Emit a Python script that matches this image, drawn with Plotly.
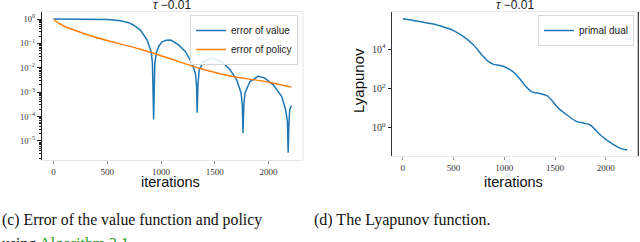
import plotly.graph_objects as go

# ---- data: left panel (error curves) ----
val_iter = [0, 200, 400, 500, 624, 700, 746, 808, 870, 907, 920, 931, 942, 956, 980, 1009, 1050, 1090,
            1163, 1225, 1287, 1318, 1330, 1336, 1343, 1355, 1395, 1472, 1565, 1642, 1704, 1744, 1755,
            1762, 1770, 1781, 1827, 1904, 1966, 2043, 2121, 2158, 2175, 2182, 2190, 2197, 2213]
val_err = [1.0, 1.0, 0.99, 0.97, 0.85, 0.71, 0.56, 0.355, 0.138, 0.047, 0.016, 7.6e-5, 0.016, 0.041,
           0.079, 0.117, 0.135, 0.138, 0.087, 0.047, 0.0155, 0.0063, 0.002, 1.45e-4, 0.002, 0.0083,
           0.018, 0.025, 0.018, 0.0083, 0.0032, 9.3e-4, 3.2e-4, 2.1e-5, 3.2e-4, 9.5e-4, 0.00275,
           0.00447, 0.0038, 0.002, 6.8e-4, 1.95e-4, 6.3e-5, 3.3e-6, 6.3e-5, 1.95e-4, 2.8e-4]

pol_iter = [0, 20, 52, 100, 191, 300, 500, 808, 1080, 1349, 1657, 1966, 2213]
pol_err = [1.0, 0.83, 0.66, 0.51, 0.355, 0.24, 0.132, 0.0575, 0.024, 0.0098, 0.00447, 0.00275, 0.00162]

# ---- data: right panel (Lyapunov) ----
lya_iter = [0, 100, 203, 300, 368, 450, 500, 598, 697, 779, 845, 894, 950, 1000, 1050, 1100, 1158,
            1210, 1256, 1300, 1350, 1420, 1470, 1519, 1617, 1716, 1780, 1847, 1946, 2045, 2144, 2210]
lya_val = [3.47e5, 2.9e5, 2.34e5, 1.9e5, 1.51e5, 1.12e5, 8.7e4, 4.27e4, 1.62e4, 5.0e3, 2.29e3, 1.66e3,
           1.5e3, 1.26e3, 9.3e2, 6.0e2, 2.8e2, 1.26e2, 75, 60, 55, 42, 24, 11.5, 4.37, 2.0, 1.7, 1.35,
           0.417, 0.17, 0.087, 0.071]

x_ticks = [0, 500, 1000, 1500, 2000]
left_yvals = [1, 1e-1, 1e-2, 1e-3, 1e-4, 1e-5]
left_ytext = ["10<sup>0</sup>", "10<sup>−1</sup>", "10<sup>−2</sup>", "10<sup>−3</sup>",
              "10<sup>−4</sup>", "10<sup>−5</sup>"]
right_yvals = [1e4, 1e2, 1]
right_ytext = ["10<sup>4</sup>", "10<sup>2</sup>", "10<sup>0</sup>"]

W, H = 640, 242
def px(x): return x / W
def py(y): return 1 - y / H

BLUE = "#1f77b4"
ORANGE = "#ff7f0e"
SANS = "Liberation Sans"
SERIF = "Liberation Serif"

fig = go.Figure()
fig.add_trace(go.Scatter(x=val_iter, y=val_err, mode="lines", name="error of value",
                         line=dict(color=BLUE, width=1.5), xaxis="x", yaxis="y", legend="legend"))
fig.add_trace(go.Scatter(x=pol_iter, y=pol_err, mode="lines", name="error of policy",
                         line=dict(color=ORANGE, width=1.5, shape="spline", smoothing=0.6),
                         xaxis="x", yaxis="y", legend="legend"))
fig.add_trace(go.Scatter(x=lya_iter, y=lya_val, mode="lines", name="primal dual",
                         line=dict(color=BLUE, width=1.5, shape="spline", smoothing=0.8),
                         xaxis="x2", yaxis="y2", legend="legend2"))

xcommon = dict(range=[-110, 2320], tickvals=x_ticks, ticks="outside", ticklen=3, tickcolor="#999",
               showline=True, linecolor="#e8e8e8", linewidth=1, mirror=True, showgrid=False,
               zeroline=False, tickfont=dict(family=SERIF, size=9, color="#333"))

LX0, LX1, LY0, LY1 = 41.7, 303, 12, 160
RX0, RX1, RY0, RY1 = 391.7, 638.3, 12, 156

fig.update_layout(
    width=W, height=H, margin=dict(l=0, r=0, t=0, b=0),
    paper_bgcolor="white", plot_bgcolor="white",
    xaxis=dict(domain=[px(LX0), px(LX1)], anchor="y", **xcommon),
    yaxis=dict(domain=[py(LY1), py(LY0)], anchor="x", type="log", range=[-5.78, 0.29],
               tickmode="array", tickvals=left_yvals, ticktext=left_ytext, ticks="outside",
               ticklen=4, tickcolor="#222", showline=True, linecolor="#222", linewidth=1.2,
               showgrid=False, zeroline=False, tickfont=dict(family=SERIF, size=8.5, color="#333"),
               minor=dict(ticks="outside", ticklen=2, tickcolor="#222", dtick="D1", showgrid=False)),
    xaxis2=dict(domain=[px(RX0), px(RX1)], anchor="y2", **xcommon),
    yaxis2=dict(domain=[py(RY1), py(RY0)], anchor="x2", type="log", range=[-1.45, 5.89],
                tickmode="array", tickvals=right_yvals, ticktext=right_ytext, ticks="outside",
                ticklen=3, tickcolor="#222", showline=True, linecolor="#333", linewidth=1.2,
                showgrid=False, zeroline=False, tickfont=dict(family=SERIF, size=10, color="#333")),
    legend=dict(x=px(298), y=py(15), xanchor="right", yanchor="top", bgcolor="rgba(255,255,255,0.85)",
                bordercolor="#d8d8d8", borderwidth=1, font=dict(family=SANS, size=10, color="#222"),
                tracegroupgap=0),
    legend2=dict(x=px(634), y=py(15), xanchor="right", yanchor="top", bgcolor="rgba(255,255,255,0.85)",
                 bordercolor="#d8d8d8", borderwidth=1, font=dict(family=SANS, size=10, color="#222")),
    showlegend=True,
)

# right borders
fig.add_shape(type="line", xref="paper", yref="paper", x0=px(LX1), x1=px(LX1), y0=py(LY1), y1=py(LY0),
              line=dict(color="#e8e8e8", width=1))
fig.add_shape(type="line", xref="paper", yref="paper", x0=px(RX1), x1=px(RX1), y0=py(RY1), y1=py(RY0),
              line=dict(color="#333", width=1.2))

ann = []
tau = "<i>τ</i> −0.01"
ann.append(dict(text=tau, x=px(172), y=py(5), xref="paper", yref="paper", showarrow=False,
                xanchor="center", yanchor="middle", font=dict(family=SANS, size=12, color="#222")))
ann.append(dict(text=tau, x=px(515), y=py(5), xref="paper", yref="paper", showarrow=False,
                xanchor="center", yanchor="middle", font=dict(family=SANS, size=12, color="#222")))
ann.append(dict(text="iterations", x=px(170), y=py(182), xref="paper", yref="paper", showarrow=False,
                xanchor="center", yanchor="middle", font=dict(family=SANS, size=14.5, color="#111")))
ann.append(dict(text="iterations", x=px(513), y=py(182), xref="paper", yref="paper", showarrow=False,
                xanchor="center", yanchor="middle", font=dict(family=SANS, size=14.5, color="#111")))
ann.append(dict(text="Lyapunov", x=px(358), y=py(81), xref="paper", yref="paper", showarrow=False,
                textangle=-90, xanchor="center", yanchor="middle",
                font=dict(family=SANS, size=15, color="#111")))
ann.append(dict(text="(c) Error of the value function and policy", x=px(0), y=py(220), xref="paper",
                yref="paper", showarrow=False, xanchor="left", yanchor="middle",
                font=dict(family=SERIF, size=15.8, color="#111")))
ann.append(dict(text="using <span style='color:#1c9a1c'>Algorithm 3.1</span>", x=px(0), y=py(233),
                xref="paper", yref="paper", showarrow=False, xanchor="left", yanchor="top",
                font=dict(family=SERIF, size=15.8, color="#111")))
ann.append(dict(text="(d) The Lyapunov function.", x=px(312), y=py(220), xref="paper", yref="paper",
                showarrow=False, xanchor="left", yanchor="middle",
                font=dict(family=SERIF, size=16, color="#111")))
fig.update_layout(annotations=ann)

fig.write_html("out.html", config={"displayModeBar": False},
               post_script="document.body.style.margin='0';document.body.style.overflow='hidden';")
